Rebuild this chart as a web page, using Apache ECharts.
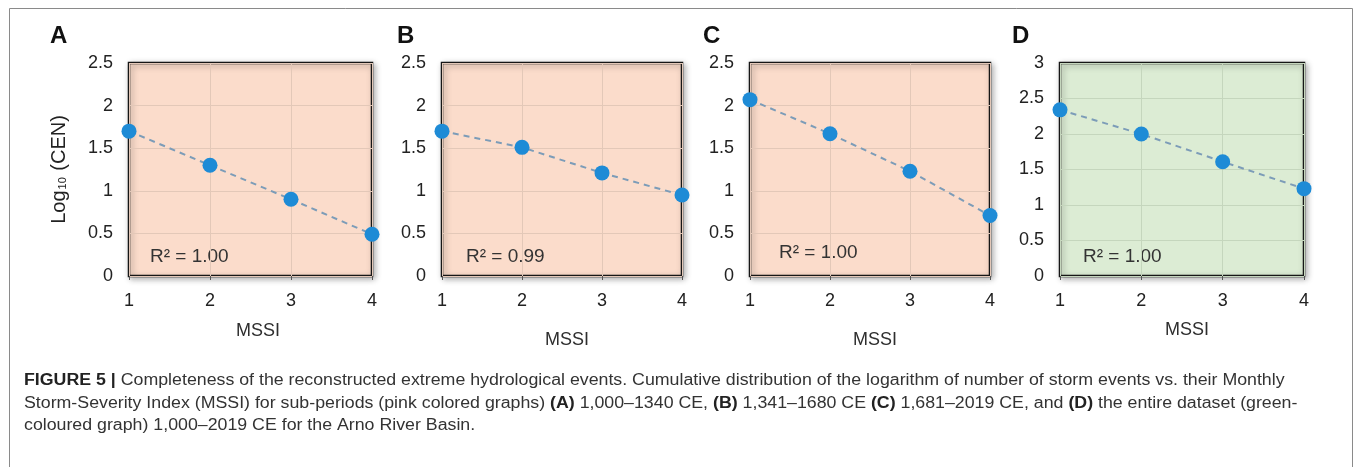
<!DOCTYPE html>
<html>
<head>
<meta charset="utf-8">
<script src="https://cdn.jsdelivr.net/npm/echarts@6/dist/echarts.min.js"></script>
<style>
html,body{margin:0;padding:0;background:#fff;}
#c{width:1355px;height:467px;}
</style>
</head>
<body>
<div id="c"></div>
<script>
// ---- data ----
const mssi = [1, 2, 3, 4];
const seriesA = [1.70, 1.30, 0.90, 0.49];
const seriesB = [1.70, 1.51, 1.21, 0.95];
const seriesC = [2.07, 1.67, 1.23, 0.71];
const seriesD = [2.34, 2.00, 1.61, 1.23];
const panelLetters = ['A', 'B', 'C', 'D'];
const r2Labels = ['R\u00B2 = 1.00', 'R\u00B2 = 0.99', 'R\u00B2 = 1.00', 'R\u00B2 = 1.00'];
const yMax = [2.5, 2.5, 2.5, 3];
const yInterval = 0.5;
const xLabel = 'MSSI';
const captionLines = [
  '{b|FIGURE 5 |} Completeness of the reconstructed extreme hydrological events. Cumulative distribution of the logarithm of number of storm events vs. their Monthly',
  'Storm-Severity Index (MSSI) for sub-periods (pink colored graphs) {b|(A)} 1,000\u20131340 CE, {b|(B)} 1,341\u20131680 CE {b|(C)} 1,681\u20132019 CE, and {b|(D)} the entire dataset (green-',
  'coloured graph) 1,000\u20132019 CE for the Arno River Basin.'
];

// ---- layout ----
const FONT = 'Liberation Sans, Arial, sans-serif';
const panels = [
  {left: 129, width: 243, bg: '#fbdccb', grid: '#e3c8b8', letterX: 50, r2X: 150, r2Y: 257, mx: 258, my: 331},
  {left: 442, width: 240, bg: '#fbdccb', grid: '#e3c8b8', letterX: 397, r2X: 466, r2Y: 257, mx: 567, my: 340},
  {left: 750, width: 240, bg: '#fbdccb', grid: '#e3c8b8', letterX: 703, r2X: 779, r2Y: 253, mx: 875, my: 340},
  {left: 1060, width: 244, bg: '#dcecd4', grid: '#c5d6bd', letterX: 1012, r2X: 1083, r2Y: 257, mx: 1187, my: 330}
];
const allSeries = [seriesA, seriesB, seriesC, seriesD];
const TOP = 63, HEIGHT = 213;
const tickFont = {fontFamily: FONT, fontSize: 18, color: '#222'};

const grids = [], xAxes = [], yAxes = [], series = [], graphics = [];
panels.forEach((p, i) => {
  grids.push({
    left: p.left, top: TOP, width: p.width, height: HEIGHT,
    show: true, backgroundColor: p.bg, borderColor: '#161616', borderWidth: 2.5,
    shadowColor: 'rgba(0,0,0,0.30)', shadowBlur: 6, shadowOffsetX: 2, shadowOffsetY: 2
  });
  xAxes.push({
    gridIndex: i, type: 'value', min: 1, max: 4, interval: 1,
    axisLine: {show: false},
    axisTick: {show: true, length: 4, lineStyle: {color: '#555'}},
    axisLabel: Object.assign({margin: 16}, tickFont),
    splitLine: {show: true, lineStyle: {color: p.grid, width: 1}}
  });
  yAxes.push(Object.assign({
    gridIndex: i, type: 'value', min: 0, max: yMax[i], interval: yInterval,
    axisLine: {show: false}, axisTick: {show: false},
    axisLabel: Object.assign({margin: 16}, tickFont),
    splitLine: {show: true, lineStyle: {color: p.grid, width: 1}}
  }, i === 0 ? {
    name: 'Log{s|10} (CEN)', nameLocation: 'middle', nameRotate: 90, nameGap: 60,
    nameTextStyle: {fontFamily: FONT, fontSize: 20, color: '#222',
      rich: {s: {fontSize: 11, fontFamily: FONT, color: '#222', padding: [7, 1, 0, 1]}}}
  } : {}));
  series.push({
    type: 'line', xAxisIndex: i, yAxisIndex: i,
    data: mssi.map((x, k) => [x, allSeries[i][k]]),
    symbol: 'circle', symbolSize: 15, showSymbol: true,
    itemStyle: {color: '#1e8bd6'},
    lineStyle: {color: '#7c9cb8', width: 2, type: [6, 5]},
    clip: false, silent: true, z: 3
  });
  graphics.push({
    type: 'text', left: p.letterX, top: 24,
    style: {text: panelLetters[i], fontFamily: FONT, fontWeight: 'bold', fontSize: 24, fill: '#111'}
  });
  graphics.push({
    type: 'text', x: p.r2X, y: p.r2Y,
    style: {text: r2Labels[i], fontFamily: FONT, fontSize: 19, fill: '#333', verticalAlign: 'middle'}
  });
  graphics.push({
    type: 'text', x: p.mx, y: p.my,
    style: {text: xLabel, fontFamily: FONT, fontSize: 18, fill: '#2e2e2e', align: 'center', verticalAlign: 'middle'}
  });
});

// outer frame
graphics.push({
  type: 'rect', shape: {x: 9.5, y: 8.5, width: 1343, height: 480},
  style: {fill: 'none', stroke: '#8a8a8a', lineWidth: 1}, z: -10
});
// caption
captionLines.forEach((t, k) => {
  graphics.push({
    type: 'text', x: 24, y: 381 + k * 22.5, scaleX: 1.11,
    style: {
      text: t, fontFamily: FONT, fontSize: 16, fill: '#333',
      verticalAlign: 'middle',
      rich: {b: {fontWeight: 'bold', fontFamily: FONT, fontSize: 16, fill: '#222'}}
    }
  });
});

const chart = echarts.init(document.getElementById('c'), null, {renderer: 'canvas'});
chart.setOption({
  animation: false,
  backgroundColor: '#fff',
  grid: grids, xAxis: xAxes, yAxis: yAxes, series: series, graphic: graphics
});
</script>
</body>
</html>
